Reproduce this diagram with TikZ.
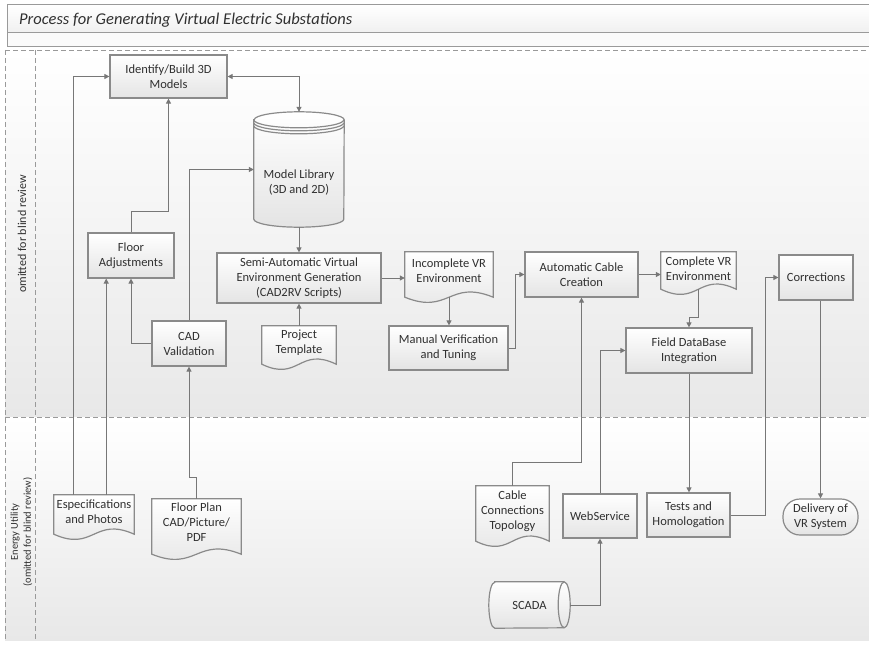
\documentclass[tikz,border=0pt]{standalone}
\usepackage{fontspec}
\setmainfont{Carlito}
\usetikzlibrary{arrows.meta}

\definecolor{edge}{HTML}{8A8A8A}
\definecolor{wire}{HTML}{777777}
\definecolor{ink}{HTML}{303030}
\definecolor{boxbot}{HTML}{E4E4E4}
\definecolor{lanebot}{HTML}{E8E8E8}
\definecolor{rule}{HTML}{9A9A9A}

\pgfdeclarelayer{lanes}
\pgfdeclarelayer{shapes}
\pgfsetlayers{lanes,shapes,main}

\tikzset{
  txt/.style={font=\fontsize{12.5}{15}\selectfont, text=ink, align=center, inner sep=1pt},
  sz/.style 2 args={minimum width=#1pt, minimum height=#2pt},
  procbox/.style={txt, rectangle, draw=edge, line width=1.2pt, top color=white, bottom color=boxbot},
  docnode/.style={txt, rectangle},
  docframe/.style={draw=edge, line width=1.2pt, top color=white, bottom color=boxbot},
  outline/.style={draw=edge, line width=1.2pt},
  wireline/.style={draw=wire, line width=1pt, ->},
  laneline/.style={draw=rule, line width=0.9pt, dash pattern=on 5pt off 3pt},
  frameline/.style={draw=rule, line width=1pt},
}

% document symbol: flat top, wavy bottom dropping #2 pt below the text box
\newcommand\docoutline[2]{%
  \path[docframe] (#1.north west) -- (#1.north east) -- ([yshift=-#2pt]#1.south east)
    .. controls ([yshift=18pt-#2pt]#1.south) and ([yshift=-18pt-#2pt]#1.south)
    .. ([yshift=-#2pt]#1.south west) -- cycle;}

% stored data drum with a ringed lid
\newcommand\drumoutline[1]{%
  \path[docframe] ([yshift=-8pt]#1.north west) -- ([yshift=8pt]#1.south west)
    arc[start angle=180, end angle=360, x radius=45pt, y radius=8pt]
    -- ([yshift=-8pt]#1.north east)
    arc[start angle=0, end angle=180, x radius=45pt, y radius=8pt] -- cycle;
  \foreach \ringdrop in {8,11,14}
    \path[outline] ([yshift=-\ringdrop pt]#1.north west)
      arc[start angle=180, end angle=360, x radius=45pt, y radius=8pt];}

% direct access storage lying on its side
\newcommand\pipeoutline[1]{%
  \path[docframe] ([xshift=6pt]#1.north west) -- ([xshift=-6pt]#1.north east)
    arc[start angle=90, end angle=-90, x radius=6pt, y radius=23pt]
    -- ([xshift=6pt]#1.south west)
    arc[start angle=270, end angle=90, x radius=6pt, y radius=23pt] -- cycle;
  \path[outline] ([xshift=-6pt]#1.north east)
    arc[start angle=90, end angle=270, x radius=6pt, y radius=23pt];}

\begin{document}
\begin{tikzpicture}[x=1pt, y=-1pt, >={Triangle[length=5pt,width=5pt]}]
\useasboundingbox (0,0) rectangle (869,647);

% swimlane frame
\begin{pgfonlayer}{lanes}
  \fill[white] (0,0) rectangle (869,647);
  \shade[top color=white, bottom color=lanebot] (5,50) rectangle (869,417);
  \shade[top color=white, bottom color=lanebot] (5,417) rectangle (869,640);
  \draw[frameline, top color=white, bottom color=gray!12] (7,5) rectangle (880,33);
  \draw[frameline, fill=gray!4] (7,33) rectangle (880,47);
  \draw[laneline] (5,50) -- (869,50);
  \draw[laneline] (5,417) -- (869,417);
  \draw[laneline] (5,50) -- (5,640);
  \draw[laneline] (35,50) -- (35,640);
\end{pgfonlayer}

\node[anchor=west, font=\fontsize{16.5}{18}\selectfont\itshape, text=ink, inner sep=0pt]
  (title) at (19,20) {Process for Generating Virtual Electric Substations};
\node[rotate=90, font=\fontsize{12}{14}\selectfont, text=ink] (laneA) at (22,234)
  {omitted for blind review};
\node[rotate=90, align=center, font=\fontsize{10.5}{13}\selectfont, text=ink] (laneB) at (21.5,532)
  {Energy Utility\\(omitted for blind review)};

% steps
\node[procbox, sz={117}{43}] (ident) at (168.5,76.5) {Identify/Build 3D\\Models};
\node[docnode, sz={90}{115}] (mlib) at (299,169.5) {};
\node[txt] (mlibtxt) at (299,183) {Model Library\\(3D and 2D)};
\node[procbox, sz={164}{50}] (semi) at (299,278) {Semi-Automatic Virtual\\Environment Generation\\(CAD2RV Scripts)};
\node[docnode, sz={74}{33}] (ptemp) at (299,342.5) {Project\\Template};
\node[docnode, sz={88}{37}] (incvr) at (449,270.5) {Incomplete VR\\Environment};
\node[procbox, sz={119}{44}] (manual) at (448.5,348) {Manual Verification\\and Tuning};
\node[procbox, sz={113}{45}] (autoc) at (581.5,274.5) {Automatic Cable\\Creation};
\node[docnode, sz={75}{34}] (compvr) at (698.5,269) {Complete VR\\Environment};
\node[procbox, sz={126}{45}] (fielddb) at (689,350.5) {Field DataBase\\Integration};
\node[procbox, sz={74}{45}] (corr) at (816,277.5) {Corrections};
\node[procbox, sz={75}{36}, rounded corners=17pt] (deliv) at (820.5,517) {Delivery of\\VR System};
\node[procbox, sz={83}{44}] (tests) at (688.5,515) {Tests and\\Homologation};
\node[procbox, sz={74}{44}] (websvc) at (600,516) {WebService};
\node[docnode, sz={73}{50}] (cabtop) at (512.5,511) {Cable\\Connections\\Topology};
\node[docnode, sz={81}{46}] (scada) at (529.5,605) {SCADA};
\node[docnode, sz={80}{34}] (espec) at (94,512) {Especifications\\and Photos};
\node[docnode, sz={89}{46}] (fplan) at (196.5,522) {Floor Plan\\CAD/Picture/\\PDF};
\node[procbox, sz={86}{45}] (floor) at (131,255.5) {Floor\\Adjustments};
\node[procbox, sz={74}{45}] (cadv) at (189,343.5) {CAD\\Validation};

\begin{pgfonlayer}{shapes}
  \docoutline{ptemp}{5}
  \docoutline{incvr}{8}
  \docoutline{compvr}{3}
  \docoutline{cabtop}{5}
  \docoutline{espec}{5}
  \docoutline{fplan}{9}
  \drumoutline{mlib}
  \pipeoutline{scada}
\end{pgfonlayer}

% flow
\coordinate (especA) at ([xshift=20pt]espec.north west);
\coordinate (especB) at ([xshift=-28pt]espec.north east);
\coordinate (incvrB) at ([yshift=-8pt]incvr.south);
\coordinate (compvrB) at ([yshift=-3pt]compvr.south);

\draw[wireline] (especA) |- (ident.west);
\draw[wireline] (especB) -- (especB |- floor.south);
\draw[wireline] (floor.north) -- ++(0,-21) -| (ident.south);
\draw[wireline] (cadv.west) -| (floor.south);
\draw[wireline] (cadv.north) |- (mlib.west);
\draw[wireline] (fplan.north) -- ++(0,-21) -| (cadv.south);
\draw[wireline, <->] (ident.east) -| (mlib.north);
\draw[wireline] (mlib.south) -- (semi.north);
\draw[wireline] (ptemp.north) -- (semi.south);
\draw[wireline] (semi.east) -- (semi.east -| incvr.west);
\draw[wireline] (incvrB) -- (incvrB |- manual.north);
\draw[wireline] (manual.east) -- ++(7,0) |- (autoc.west);
\draw[wireline] (autoc.east) -- (autoc.east -| compvr.west);
\draw[wireline] (compvrB) |- ([yshift=10pt]fielddb.north) -- (fielddb.north);
\draw[wireline] (cabtop.north) -- ++(0,-23) -| (autoc.south);
\draw[wireline] (websvc.north) |- (fielddb.west);
\draw[wireline] (scada.east) -| (websvc.south);
\draw[wireline] (fielddb.south) -- (fielddb.south |- tests.north);
\draw[wireline] (tests.east) -- ++(35,0) |- (corr.west);
\draw[wireline] (deliv.north |- corr.south) -- (deliv.north);
\end{tikzpicture}
\end{document}
